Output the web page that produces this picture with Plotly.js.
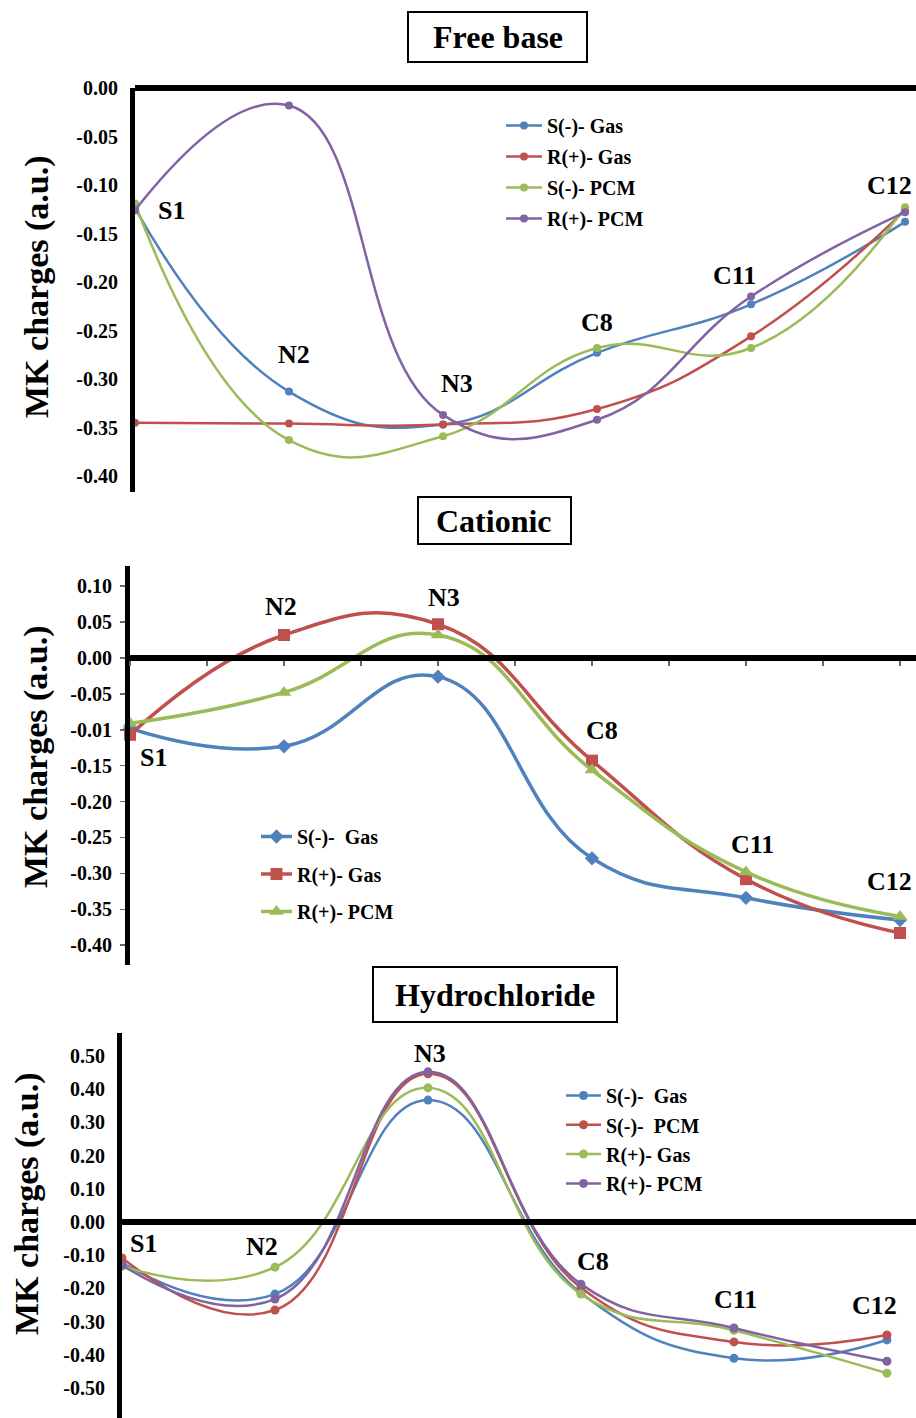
<!DOCTYPE html>
<html>
<head>
<meta charset="utf-8">
<script src="https://cdn.plot.ly/plotly-3.0.1.min.js"></script>
<style>html,body{margin:0;padding:0;background:#fff}#chart{width:916px;height:1418px}</style>
</head>
<body>
<div id="chart"></div>
<script>
// ---------- DATA ----------
const categories = ['S1', 'N2', 'N3', 'C8', 'C11', 'C12'];

// Free base
const fbSGas = [-0.124, -0.313, -0.347, -0.273, -0.223, -0.138];
const fbRGas = [-0.345, -0.346, -0.347, -0.331, -0.256, -0.126];
const fbSPcm = [-0.119, -0.363, -0.359, -0.268, -0.268, -0.123];
const fbRPcm = [-0.126, -0.018, -0.337, -0.342, -0.215, -0.128];

// Cationic
const catSGas = [-0.098, -0.123, -0.026, -0.279, -0.334, -0.365];
const catRGas = [-0.107, 0.032, 0.047, -0.143, -0.308, -0.383];
const catRPcm = [-0.091, -0.048, 0.032, -0.156, -0.298, -0.360];

// Hydrochloride
const hcSGas = [-0.123, -0.217, 0.367, -0.214, -0.410, -0.355];
const hcSPcm = [-0.108, -0.265, 0.446, -0.198, -0.361, -0.340];
const hcRGas = [-0.133, -0.136, 0.404, -0.217, -0.326, -0.455];
const hcRPcm = [-0.130, -0.232, 0.452, -0.187, -0.319, -0.419];

// Tick labels
const fbTickVals = [0, -0.05, -0.10, -0.15, -0.20, -0.25, -0.30, -0.35, -0.40];
const fbTickText = ['0.00', '-0.05', '-0.10', '-0.15', '-0.20', '-0.25', '-0.30', '-0.35', '-0.40'];
const catTickVals = [0.10, 0.05, 0, -0.05, -0.10, -0.15, -0.20, -0.25, -0.30, -0.35, -0.40];
const catTickText = ['0.10', '0.05', '0.00', '-0.05', '-0.01', '-0.15', '-0.20', '-0.25', '-0.30', '-0.35', '-0.40'];
const hcTickVals = [0.5, 0.4, 0.3, 0.2, 0.1, 0, -0.1, -0.2, -0.3, -0.4, -0.5];
const hcTickText = ['0.50', '0.40', '0.30', '0.20', '0.10', '0.00', '-0.10', '-0.20', '-0.30', '-0.40', '-0.50'];

const panelTitles = ['Free base', 'Cationic', 'Hydrochloride'];
const yTitle = 'MK charges (a.u.)';

// ---------- STYLE ----------
const W = 916, H = 1418;
const BLUE = '#4F81BD', RED = '#C0504D', GREEN = '#9BBB59', PURPLE = '#8064A2';
const SERIF = 'Liberation Serif';
const px = v => v / W;
const py = v => 1 - v / H;
const idx = categories.map((c, i) => i);

function tr(name, y, color, xa, ya, legend, group, opts) {
  opts = opts || {};
  return {
    type: 'scatter', mode: 'lines+markers', name: name,
    x: idx, y: y, xaxis: xa, yaxis: ya, legend: legend, legendgroup: group,
    cliponaxis: false,
    line: {color: color, width: opts.lw || 2.5, shape: 'spline', smoothing: 1.3},
    marker: {color: color, size: opts.ms || 8, symbol: opts.sym || 'circle'}
  };
}

const data = [
  tr('S(-)- Gas', fbSGas, BLUE, 'x', 'y', 'legend', 'a1'),
  tr('R(+)- Gas', fbRGas, RED, 'x', 'y', 'legend', 'a2'),
  tr('S(-)- PCM', fbSPcm, GREEN, 'x', 'y', 'legend', 'a3'),
  tr('R(+)- PCM', fbRPcm, PURPLE, 'x', 'y', 'legend', 'a4'),

  tr('S(-)-  Gas', catSGas, BLUE, 'x2', 'y2', 'legend2', 'b1', {lw: 3.5, ms: 11, sym: 'diamond'}),
  tr('R(+)- Gas', catRGas, RED, 'x2', 'y2', 'legend2', 'b2', {lw: 3.5, ms: 12, sym: 'square'}),
  tr('R(+)- PCM', catRPcm, GREEN, 'x2', 'y2', 'legend2', 'b3', {lw: 3.5, ms: 13, sym: 'triangle-up'}),

  tr('S(-)-  Gas', hcSGas, BLUE, 'x3', 'y3', 'legend3', 'c1', {ms: 9}),
  tr('S(-)-  PCM', hcSPcm, RED, 'x3', 'y3', 'legend3', 'c2', {ms: 9}),
  tr('R(+)- Gas', hcRGas, GREEN, 'x3', 'y3', 'legend3', 'c3', {ms: 9}),
  tr('R(+)- PCM', hcRPcm, PURPLE, 'x3', 'y3', 'legend3', 'c4', {ms: 9})
];

const tickFont = {family: SERIF, size: 20, color: '#000', weight: 'bold'};
const legFont = {family: SERIF, size: 20, color: '#000', weight: 'bold'};

function xax(left, right, range, zeroPx, extra) {
  return Object.assign({
    domain: [px(left), 1], range: range, anchor: 'free', position: py(zeroPx),
    showline: true, linewidth: 6, linecolor: '#000', showgrid: false, zeroline: false,
    showticklabels: false, ticks: '', fixedrange: true
  }, extra || {});
}
function yax(top, bottom, range, vals, text, xa, extra) {
  return Object.assign({
    domain: [py(bottom), py(top)], range: range, anchor: xa,
    showline: true, linewidth: 5, linecolor: '#000', showgrid: false, zeroline: false,
    tickmode: 'array', tickvals: vals, ticktext: text, tickfont: tickFont,
    ticks: 'outside', ticklen: 8, tickcolor: 'rgba(0,0,0,0)', fixedrange: true
  }, extra || {});
}

const labelFont = {family: SERIF, size: 26, color: '#000', weight: 'bold'};
function lab(text, x, y) {
  return {text: text, x: px(x), y: py(y), xref: 'paper', yref: 'paper', showarrow: false,
          xanchor: 'center', yanchor: 'middle', font: labelFont};
}
const fbLab = [[171, 210], [294, 355], [457, 383], [597, 323], [734, 275], [889, 185]];
const catLab = [[153, 758], [281, 606], [444, 597], [602, 730], [752, 844], [889, 881]];
const hcLab = [[143, 1243], [262, 1246], [430, 1053], [593, 1261], [735, 1299], [874, 1305]];

const annotations = [];
categories.forEach((c, i) => {
  annotations.push(lab(c, fbLab[i][0], fbLab[i][1]));
  annotations.push(lab(c, catLab[i][0], catLab[i][1]));
  annotations.push(lab(c, hcLab[i][0], hcLab[i][1]));
});
const titleFont = {family: SERIF, size: 32, color: '#000', weight: 'bold'};
const titleBoxes = [[408, 12, 587, 62], [418, 497, 571, 544], [373, 967, 617, 1022]];
panelTitles.forEach((t, i) => {
  const b = titleBoxes[i];
  annotations.push({text: t, x: px((b[0] + b[2]) / 2), y: py((b[1] + b[3]) / 2), xref: 'paper', yref: 'paper',
    showarrow: false, xanchor: 'center', yanchor: 'middle', font: titleFont});
});
const yTitlePos = [[37, 287], [36, 757], [27, 1204]];
yTitlePos.forEach(p => {
  annotations.push({text: yTitle, x: px(p[0]), y: py(p[1]), xref: 'paper', yref: 'paper', showarrow: false,
    textangle: -90, xanchor: 'center', yanchor: 'middle',
    font: {family: SERIF, size: 34, color: '#000', weight: 'bold'}});
});

const shapes = titleBoxes.map(b => ({type: 'rect', xref: 'paper', yref: 'paper',
  x0: px(b[0]), x1: px(b[2]), y0: py(b[3]), y1: py(b[1]), line: {color: '#000', width: 2}}));

const layout = {
  width: W, height: H, margin: {l: 0, r: 0, t: 0, b: 0},
  paper_bgcolor: '#fff', plot_bgcolor: 'rgba(0,0,0,0)',
  font: {family: SERIF, color: '#000'},
  xaxis: xax(135, 916, [0, 5.071], 88),
  yaxis: yax(88, 492, [-0.4165, 0], fbTickVals, fbTickText, 'x'),
  xaxis2: xax(130, 916, [0, 5.104], 658, {ticks: 'outside', ticklen: 5, tickwidth: 1.5, tickcolor: '#666', tick0: 0, dtick: 0.5}),
  yaxis2: yax(566, 965, [-0.4276, 0.1281], catTickVals, catTickText, 'x2', {ticklen: 5, tickwidth: 1.5, tickcolor: '#666', ticklabelstandoff: 4}),
  xaxis3: xax(122, 916, [0, 5.19], 1222),
  yaxis3: yax(1033, 1418, [-0.590, 0.569], hcTickVals, hcTickText, 'x3'),
  legend: {x: px(501), y: py(106), xanchor: 'left', yanchor: 'top', font: legFont, bgcolor: 'rgba(0,0,0,0)',
           traceorder: 'grouped', tracegroupgap: 2, itemwidth: 36},
  legend2: {x: px(256), y: py(817), xanchor: 'left', yanchor: 'top', font: legFont, bgcolor: 'rgba(0,0,0,0)',
           traceorder: 'grouped', tracegroupgap: 8.5, itemwidth: 31},
  legend3: {x: px(561), y: py(1076), xanchor: 'left', yanchor: 'top', font: legFont, bgcolor: 'rgba(0,0,0,0)',
           traceorder: 'grouped', tracegroupgap: 0.3, itemwidth: 35},
  annotations: annotations,
  shapes: shapes,
  showlegend: true
};

Plotly.newPlot('chart', data, layout, {displayModeBar: false, staticPlot: true});
</script>
</body>
</html>
